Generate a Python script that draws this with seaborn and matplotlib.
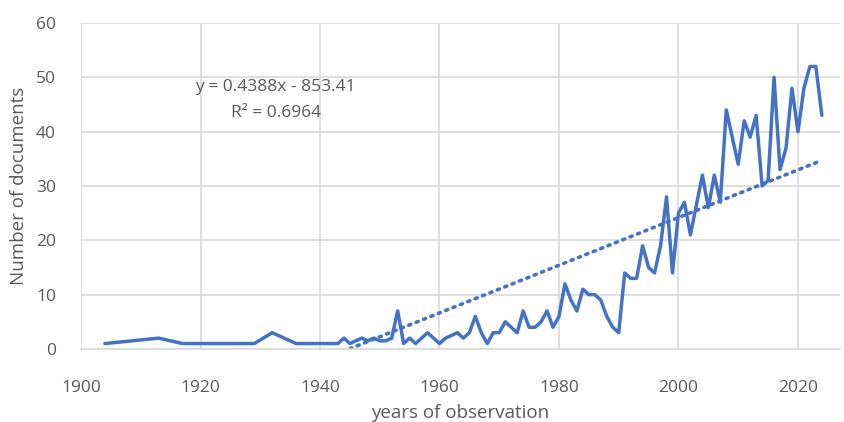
import numpy as np
import pandas as pd
import matplotlib
matplotlib.use("Agg")
import matplotlib.pyplot as plt
import seaborn as sns

years = [1904, 1913, 1917, 1929, 1932, 1936, 1943, 1944, 1945, 1946, 1947, 1948, 1949,
         1950, 1951, 1952, 1953, 1954, 1955, 1956, 1957, 1958, 1959, 1960, 1961, 1962,
         1963, 1964, 1965, 1966, 1967, 1968, 1969, 1970, 1971, 1972, 1973, 1974, 1975,
         1976, 1977, 1978, 1979, 1980, 1981, 1982, 1983, 1984, 1985, 1986, 1987, 1988,
         1989, 1990, 1991, 1992, 1993, 1994, 1995, 1996, 1997, 1998, 1999, 2000, 2001,
         2002, 2003, 2004, 2005, 2006, 2007, 2008, 2009, 2010, 2011, 2012, 2013, 2014,
         2015, 2016, 2017, 2018, 2019, 2020, 2021, 2022, 2023, 2024]
documents = [1, 2, 1, 1, 3, 1, 1, 2, 1, 1.5, 2, 1.5, 2,
             1.5, 1.5, 2, 7, 1, 2, 1, 2, 3, 2, 1, 2, 2.5,
             3, 2, 3, 6, 3, 1, 3, 3, 5, 4, 3, 7, 4,
             4, 5, 7, 4, 6, 12, 9, 7, 11, 10, 10, 9, 6,
             4, 3, 14, 13, 13, 19, 15, 14, 19, 28, 14, 25, 27,
             21, 26.5, 32, 26, 32, 27, 44, 39, 34, 42, 39, 43, 30,
             31, 50, 33, 37, 48, 40, 48, 52, 52, 43]

trend_slope = 0.4388
trend_intercept = -853.41
trend_label = "y = 0.4388x - 853.41"
r2_label = "R² = 0.6964"

x_ticks = [1900, 1920, 1940, 1960, 1980, 2000, 2020]
y_ticks = [0, 10, 20, 30, 40, 50, 60]

df = pd.DataFrame({"year": years, "docs": documents})
tx = np.linspace(1900, 2024, 500)
trend = pd.DataFrame({"year": tx, "docs": trend_slope * tx + trend_intercept})
trend = trend[trend["docs"] >= 0]

sns.set_style("white")
plt.rcParams["font.family"] = ["Open Sans", "DejaVu Sans"]

fig = plt.figure(figsize=(8.44, 4.22), dpi=100)
ax = fig.add_axes([0.096, 0.173, 0.899, 0.7725])

blue = "#4472C4"
sns.lineplot(data=trend, x="year", y="docs", ax=ax, color=blue, linestyle=(0, (0.6, 1.6)),
             linewidth=2.6, dash_capstyle="round", zorder=2)
sns.lineplot(data=df, x="year", y="docs", ax=ax, color=blue, linewidth=2.5, zorder=3)

ax.set_xlim(1900, 2027)
ax.set_ylim(0, 60)
ax.set_xticks(x_ticks)
ax.set_yticks(y_ticks)
ax.grid(True, color="#d9d9d9", linewidth=1.2)
ax.set_axisbelow(True)
for s in ["top", "right", "left"]:
    ax.spines[s].set_visible(False)
ax.spines["bottom"].set_color("#d9d9d9")
ax.spines["bottom"].set_linewidth(1.2)
ax.tick_params(axis="both", length=0, labelsize=12.5, colors="#595959")
ax.tick_params(axis="x", pad=22)
ax.tick_params(axis="y", pad=18)
ax.set_xlabel("years of observation", fontsize=13.5, color="#595959", labelpad=6)
ax.set_ylabel("Number of documents", fontsize=13.5, color="#595959", labelpad=6)

ax.text(1932.6, 48.2, trend_label, fontsize=12.5, color="#595959", ha="center", va="center")
ax.text(1932.6, 43.5, r2_label, fontsize=12.5, color="#595959", ha="center", va="center")

fig.savefig("out.png", dpi=100)
